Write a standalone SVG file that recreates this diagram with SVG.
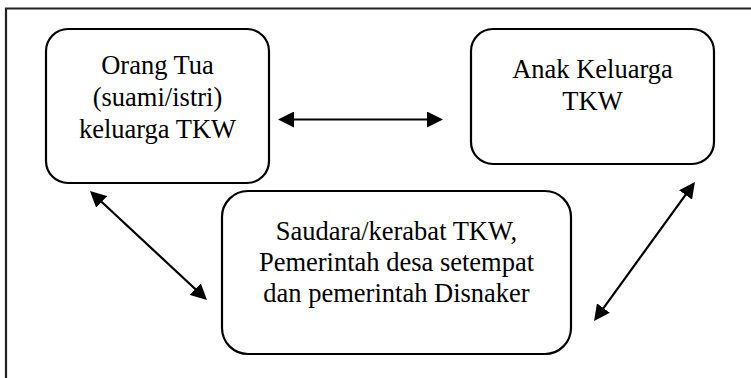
<svg xmlns="http://www.w3.org/2000/svg" width="751" height="378" viewBox="0 0 751 378">
<style>
.box{fill:#fff;stroke:#000;stroke-width:2.2}
.t{font-family:"Liberation Serif","Times New Roman",serif;font-size:26.5px;fill:#000;text-anchor:middle}
.c{stroke:#000;stroke-width:2.2;fill:none;marker-start:url(#ah);marker-end:url(#ah)}
</style>
<defs>
<marker id="ah" markerUnits="userSpaceOnUse" viewBox="0 0 16 16" refX="12" refY="8" markerWidth="16" markerHeight="16" orient="auto-start-reverse">
<path d="M0,0 L16,8 L0,16 z" fill="#000"/>
</marker>
</defs>
<rect width="751" height="378" fill="#fff"/>
<path d="M6,378 V8.5 H751" fill="none" stroke="#222" stroke-width="2.2"/>
<g id="orang-tua">
<rect class="box" x="46" y="29" width="223" height="154" rx="22"/>
<text class="t" x="157.5" y="74">Orang Tua</text>
<text class="t" x="157.5" y="105.5">(suami/istri)</text>
<text class="t" x="157.5" y="137.5">keluarga TKW</text>
</g>
<g id="anak">
<rect class="box" x="471" y="29" width="243" height="135" rx="22"/>
<text class="t" x="592.5" y="78">Anak Keluarga</text>
<text class="t" x="592.5" y="110">TKW</text>
</g>
<g id="saudara">
<rect class="box" x="222" y="191" width="349" height="163" rx="26"/>
<text class="t" x="396.5" y="239.5">Saudara/kerabat TKW,</text>
<text class="t" x="396.5" y="270.5">Pemerintah desa setempat</text>
<text class="t" x="396.5" y="301.5">dan pemerintah Disnaker</text>
</g>
<g id="connectors">
<line class="c" x1="282" y1="119.5" x2="439" y2="119.5"/>
<line class="c" x1="92.9" y1="193.7" x2="204.1" y2="297.3"/>
<line class="c" x1="692.6" y1="185.2" x2="596.4" y2="317.8"/>
</g>
</svg>
